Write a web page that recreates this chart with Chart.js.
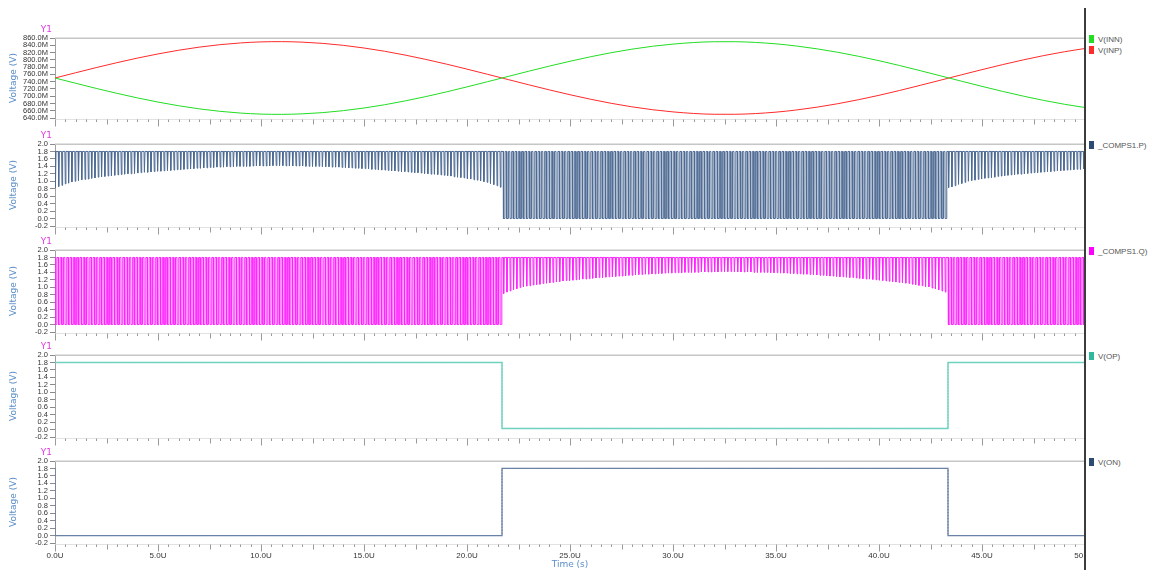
<!DOCTYPE html>
<html>
<head>
<meta charset="utf-8">
<script src="https://cdn.jsdelivr.net/npm/chart.js@4.4.1/dist/chart.umd.min.js"></script>
<style>
  html, body { margin: 0; padding: 0; background: #fff; }
  body { width: 1154px; height: 570px; overflow: hidden; position: relative; font-family: "Liberation Sans", Arial, sans-serif; }
  #plots { position: absolute; left: 0; top: 0; width: 1085px; height: 570px; overflow: hidden; }
  #plots canvas { position: absolute; left: 0; }
  #divider { position: absolute; left: 1084px; top: 8px; width: 2px; height: 562px; background: #3c3c3c; }
  .lg { position: absolute; left: 1089px; height: 9px; font: 8px "Liberation Sans", Arial, sans-serif; color: #555; white-space: nowrap; line-height: 9px; }
  .lg i { display: inline-block; width: 5px; height: 8px; margin-right: 4px; vertical-align: top; }
</style>
</head>
<body>
<div id="plots"></div>
<div id="divider"></div>
<script>
// ---- time axis -------------------------------------------------------
const timeTicksUs = [0, 5, 10, 15, 20, 25, 30, 35, 40, 45, 50];

// ---- input pair, sampled every 1 µs (values in mV) ------------------
const inputSampleStepUs = 1;
const vInpMv = [750.0, 764.4, 778.6, 792.1, 804.7, 816.2, 826.3, 834.9, 841.6, 846.4,
                849.3, 850.0, 848.6, 845.2, 839.8, 832.5, 823.6, 813.0, 801.1, 788.2,
                774.4, 760.1, 745.7, 731.3, 717.3, 704.0, 691.6, 680.4, 670.8, 662.8,
                656.8, 652.5, 650.3, 650.2, 652.2, 656.1, 662.1, 669.9, 679.3, 690.2,
                702.4, 715.7, 729.8, 744.2, 758.7, 773.0, 786.8, 799.8, 811.7, 822.2, 831.2];
const vInnMv = [750.0, 735.6, 721.4, 707.9, 695.3, 683.8, 673.7, 665.1, 658.4, 653.6,
                650.7, 650.0, 651.4, 654.8, 660.2, 667.5, 676.4, 687.0, 698.9, 711.8,
                725.6, 739.9, 754.3, 768.7, 782.7, 796.0, 808.4, 819.6, 829.2, 837.2,
                843.2, 847.5, 849.7, 849.8, 847.8, 843.9, 837.9, 830.1, 820.7, 809.8,
                797.6, 784.3, 770.2, 755.8, 741.3, 727.0, 713.2, 700.2, 688.3, 677.8, 668.8];
const inputTicksMv = [640, 660, 680, 700, 720, 740, 760, 780, 800, 820, 840, 860];

// ---- latch nodes: one comparison per clock cycle --------------------
const clockPeriodUs = 0.16;
const latchHighV = 1.8;
const winnerLowV = 0.0;
// lowest voltage reached by the latch side that loses the decision, per cycle
const loserDipV = [
  0.82,0.86,0.89,0.93,0.95,0.98,1.00,1.02,1.04,1.05,
  1.06,1.08,1.09,1.11,1.12,1.13,1.14,1.15,1.16,1.17,
  1.18,1.19,1.20,1.20,1.21,1.22,1.23,1.24,1.24,1.25,
  1.26,1.27,1.27,1.28,1.29,1.29,1.30,1.31,1.31,1.32,
  1.33,1.33,1.34,1.35,1.35,1.36,1.36,1.37,1.37,1.38,
  1.38,1.38,1.39,1.39,1.39,1.40,1.40,1.40,1.40,1.40,
  1.41,1.41,1.41,1.41,1.41,1.41,1.42,1.42,1.42,1.42,
  1.41,1.41,1.41,1.41,1.41,1.41,1.40,1.40,1.40,1.40,
  1.40,1.39,1.39,1.39,1.38,1.38,1.38,1.37,1.37,1.36,
  1.36,1.35,1.35,1.34,1.34,1.33,1.32,1.32,1.31,1.30,
  1.30,1.29,1.28,1.28,1.27,1.26,1.26,1.25,1.24,1.23,
  1.23,1.22,1.21,1.20,1.19,1.19,1.18,1.17,1.16,1.15,
  1.14,1.12,1.11,1.10,1.09,1.07,1.06,1.04,1.03,1.01,
  0.99,0.97,0.94,0.91,0.88,0.84,
  0.83,0.87,0.90,0.94,0.96,0.99,1.01,1.03,1.04,1.06,
  1.07,1.08,1.10,1.11,1.12,1.13,1.14,1.15,1.17,1.18,
  1.18,1.19,1.20,1.21,1.22,1.22,1.23,1.24,1.25,1.26,
  1.26,1.27,1.28,1.28,1.29,1.30,1.30,1.31,1.32,1.32,
  1.33,1.34,1.34,1.35,1.35,1.36,1.36,1.37,1.37,1.38,
  1.38,1.38,1.39,1.39,1.39,1.40,1.40,1.40,1.40,1.40,
  1.41,1.41,1.41,1.41,1.41,1.41,1.42,1.42,1.42,1.42,
  1.41,1.41,1.41,1.41,1.41,1.41,1.40,1.40,1.40,1.40,
  1.40,1.39,1.39,1.39,1.38,1.38,1.38,1.37,1.37,1.36,
  1.36,1.35,1.35,1.34,1.34,1.33,1.32,1.32,1.31,1.30,
  1.30,1.29,1.28,1.28,1.27,1.26,1.26,1.25,1.24,1.23,
  1.22,1.22,1.21,1.20,1.19,1.18,1.17,1.16,1.15,1.14,
  1.13,1.12,1.11,1.10,1.08,1.07,1.05,1.04,1.02,1.01,
  0.98,0.96,0.93,0.90,0.87,
  0.83,0.85,0.88,0.92,0.94,0.97,1.00,1.02,1.03,1.05,
  1.06,1.08,1.09,1.10,1.11,1.13,1.14,1.15,1.16,1.17,
  1.18,1.19,1.19,1.20,1.21,1.22,1.23,1.23,1.24,1.25,
  1.26,1.26,1.27,1.28,1.28,1.29,1.30,1.30,1.31,1.32,
  1.32,1.33
];

// ---- comparator outputs (step waveforms) ----------------------------
const opTimesUs = [0, 21.7, 21.7, 43.35, 43.35, 50];
const opVolts   = [1.8, 1.8, 0.03, 0.03, 1.8, 1.8];
const onTimesUs = [0, 0, 21.7, 21.7, 43.35, 43.35, 50];
const onVolts   = [1.8, 0.0, 0.0, 1.8, 1.8, 0.0, 0.0];
const logicTicksV = [-0.2, 0, 0.2, 0.4, 0.6, 0.8, 1.0, 1.2, 1.4, 1.6, 1.8, 2.0];

// ---- legend names and colours ---------------------------------------
const seriesNames  = ['V(INN)', 'V(INP)', '_COMPS1.P)', '_COMPS1.Q)', 'V(OP)', 'V(ON)'];
const seriesColors = ['#22dd22', '#ff2a2a', '#2c4a72', '#ff00ff', '#2fb89a', '#2c4a72'];
const seriesPanel  = [0, 0, 1, 2, 3, 4];

// ---------------------------------------------------------------------
function stepLevel(times, volts, t) {
  let v = volts[0];
  for (let i = 0; i < times.length; i++) if (times[i] <= t) v = volts[i];
  return v;
}
function stepPoints(times, volts) {
  return times.map((t, i) => ({ x: t, y: volts[i] }));
}
function latchTrace(side) {
  const pts = [];
  loserDipV.forEach((dip, k) => {
    const t0 = k * clockPeriodUs;
    const pLoses = stepLevel(opTimesUs, opVolts, t0) > 0.9;
    const loses = side === 'P' ? pLoses : !pLoses;
    pts.push({ x: t0, y: latchHighV });
    if (loses) {
      pts.push({ x: t0 + 0.02, y: dip }, { x: t0 + 0.05, y: latchHighV });
    } else {
      pts.push({ x: t0 + 0.01, y: winnerLowV }, { x: t0 + 0.08, y: winnerLowV }, { x: t0 + 0.09, y: latchHighV });
    }
  });
  pts.push({ x: 50, y: latchHighV });
  return pts;
}

Chart.defaults.font.family = '"Liberation Sans", Arial, sans-serif';

const PAD_TOP = 22;
const panelTops = [38, 144, 250, 355, 461];
const panelPlotH = [80, 82, 82, 82, 82];

// panel decoration: top frame, x tick row and the "Y1" axis tag
const panelFrame = {
  id: 'panelFrame',
  afterDraw(chart) {
    const { ctx, chartArea: { left, right, top, bottom }, scales: { x } } = chart;
    ctx.save();
    ctx.strokeStyle = '#c6c6c6';
    ctx.lineWidth = 1.5;
    ctx.beginPath(); ctx.moveTo(left, top + 0.25); ctx.lineTo(right + 10, top + 0.25); ctx.stroke();
    // tick row under the plot
    ctx.strokeStyle = '#e2e2e2';
    ctx.lineWidth = 1;
    ctx.beginPath(); ctx.moveTo(left, bottom + 1.5); ctx.lineTo(right, bottom + 1.5); ctx.stroke();
    ctx.strokeStyle = '#9a9a9a';
    for (let i = 0; i <= 100; i++) {
      const t = i * 0.5;
      const px = Math.round(x.getPixelForValue(t)) + 0.5;
      const len = (i % 10 === 0) ? 7 : (i % 5 === 0 ? 5 : 2.5);
      ctx.beginPath(); ctx.moveTo(px, bottom + 1.5); ctx.lineTo(px, bottom + 1.5 + len); ctx.stroke();
    }
    ctx.fillStyle = '#e23be2';
    ctx.font = '9px "DejaVu Sans", sans-serif';
    ctx.textAlign = 'right';
    ctx.textBaseline = 'middle';
    ctx.fillText('Y1', left - 3, top - 8);
    ctx.restore();
  }
};

function makePanel(idx, datasets, yMin, yMax, yTicks, yFmt) {
  const isLast = idx === 4;
  const axisH = isLast ? 30 : 12;
  const cv = document.createElement('canvas');
  cv.width = 1120;
  cv.height = PAD_TOP + panelPlotH[idx] + axisH;
  cv.style.top = (panelTops[idx] - PAD_TOP) + 'px';
  document.getElementById('plots').appendChild(cv);

  new Chart(cv, {
    type: 'line',
    data: { datasets },
    options: {
      responsive: false,
      animation: false,
      events: [],
      parsing: false,
      normalized: true,
      layout: { padding: { top: PAD_TOP, right: 35, left: 0, bottom: 0 } },
      plugins: { legend: { display: false }, tooltip: { enabled: false } },
      elements: { point: { radius: 0 }, line: { borderWidth: 1 } },
      scales: {
        x: {
          type: 'linear', min: 0, max: 50,
          afterBuildTicks: s => { s.ticks = timeTicksUs.map(v => ({ value: v })); },
          afterFit: s => { s.height = axisH; },
          ticks: {
            display: isLast, autoSkip: false, maxRotation: 0, padding: 0,
            font: { size: 8 }, color: '#333',
            callback: v => v.toFixed(1) + 'U'
          },
          grid: { display: false },
          border: { display: false },
          title: {
            display: isLast, text: 'Time (s)', color: '#5b8ec6',
            font: { family: '"DejaVu Sans", sans-serif', size: 9 },
            padding: { top: 0, bottom: 3 }
          }
        },
        y: {
          min: yMin, max: yMax,
          afterBuildTicks: s => { s.ticks = yTicks.map(v => ({ value: v })); },
          afterFit: s => { s.width = 55; },
          ticks: { autoSkip: false, padding: 2, font: { size: 7.5 }, color: '#333', callback: yFmt },
          grid: { display: true, drawOnChartArea: false, drawTicks: true, tickLength: 5, tickColor: '#8a8a8a' },
          border: { display: true, color: '#a0a0a0', width: 1 },
          title: {
            display: true, text: 'Voltage (V)', color: '#5b8ec6',
            font: { family: '"DejaVu Sans", sans-serif', size: 9 },
            padding: { top: 8, bottom: 0 }
          }
        }
      }
    },
    plugins: [panelFrame]
  });
}

const fmtMilli = v => v.toFixed(1) + 'M';
const fmtVolt = v => v.toFixed(1);

makePanel(0, [
  { data: vInnMv.map((v, i) => ({ x: i * inputSampleStepUs, y: v })), borderColor: '#22dd22', cubicInterpolationMode: 'monotone' },
  { data: vInpMv.map((v, i) => ({ x: i * inputSampleStepUs, y: v })), borderColor: '#ff2a2a', cubicInterpolationMode: 'monotone' }
], 640, 860, inputTicksMv, fmtMilli);

makePanel(1, [
  { data: latchTrace('P'), borderColor: '#4d6a93', borderWidth: 1 }
], -0.2, 2.0, logicTicksV, fmtVolt);

makePanel(2, [
  { data: latchTrace('Q'), borderColor: '#ff22ff', borderWidth: 1 }
], -0.2, 2.0, logicTicksV, fmtVolt);

makePanel(3, [
  { data: stepPoints(opTimesUs, opVolts), borderColor: '#6fd2bf', borderWidth: 1.4 },
  { data: stepPoints(opTimesUs, opVolts), borderColor: '#2fae94', borderWidth: 1, borderDash: [1, 2] }
], -0.2, 2.0, logicTicksV, fmtVolt);

makePanel(4, [
  { data: stepPoints(onTimesUs, onVolts), borderColor: '#6a82a6', borderWidth: 1.3 },
  { data: stepPoints(onTimesUs, onVolts), borderColor: '#2c4a72', borderWidth: 1, borderDash: [1, 2] }
], -0.2, 2.0, logicTicksV, fmtVolt);

// legends to the right of the divider
const perPanelCount = [0, 0, 0, 0, 0];
seriesNames.forEach((name, i) => {
  const p = seriesPanel[i];
  const row = perPanelCount[p]++;
  const el = document.createElement('div');
  el.className = 'lg';
  el.style.top = (panelTops[p] - 3 + row * 10.5) + 'px';
  const sw = document.createElement('i');
  sw.style.background = seriesColors[i];
  el.appendChild(sw);
  el.appendChild(document.createTextNode(name));
  document.body.appendChild(el);
});
</script>
</body>
</html>
